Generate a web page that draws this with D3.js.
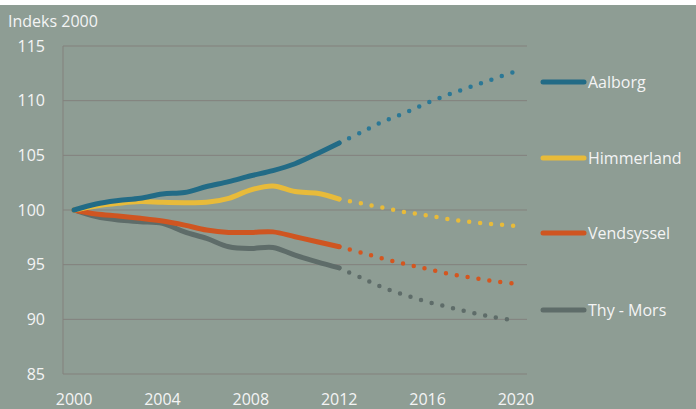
<!DOCTYPE html>
<html>
<head>
<meta charset="utf-8">
<script src="https://cdn.jsdelivr.net/npm/d3@7.9.0/dist/d3.min.js"></script>
<style>
  html, body { margin: 0; padding: 0; background: #fff; }
  svg { display: block; }
  text { font-family: "Open Sans", Lato, sans-serif; }
</style>
</head>
<body>
<div id="chart"></div>
<script>
// years on the category axis
const years = d3.range(2000, 2021);
const tickYears = [2000, 2004, 2008, 2012, 2016, 2020];
const yTicks = [85, 90, 95, 100, 105, 110, 115];

// observed 2000-2012
const histYears = d3.range(2000, 2013);
const aalborg = [100, 100.55, 100.86, 101.07, 101.47, 101.6, 102.15, 102.6, 103.13, 103.6, 104.23, 105.15, 106.13];
const himmerland = [100, 100.37, 100.61, 100.77, 100.7, 100.67, 100.7, 101.07, 101.84, 102.2, 101.69, 101.53, 101.0];
const vendsyssel = [100, 99.63, 99.45, 99.24, 98.99, 98.62, 98.17, 97.95, 97.95, 98.0, 97.55, 97.1, 96.64];
const thyMors = [100, 99.39, 99.08, 98.93, 98.78, 98.0, 97.4, 96.64, 96.48, 96.57, 95.87, 95.26, 94.7];

// projection 2012-2020
const projYears = d3.range(2012, 2021);
const aalborgProj = [106.13, 107.1, 108.1, 108.9, 109.8, 110.6, 111.3, 112.0, 112.7];
const himmerlandProj = [101.0, 100.6, 100.2, 99.8, 99.5, 99.15, 98.9, 98.7, 98.55];
const vendsysselProj = [96.64, 96.1, 95.55, 95.05, 94.6, 94.15, 93.8, 93.5, 93.25];
const thyMorsProj = [94.7, 93.8, 92.9, 92.2, 91.6, 91.1, 90.6, 90.2, 89.9];

const names = ['Aalborg', 'Himmerland', 'Vendsyssel', 'Thy - Mors'];
const colors = ['#226b86', '#e8bb3a', '#cf5521', '#5e6c69'];
const dotColors = ['#2b7896', '#e8bb3a', '#d4561f', '#5e6c69'];

const series = names.map((name, i) => ({
  name,
  color: colors[i],
  dot: dotColors[i],
  hist: histYears.map((y, j) => ({ year: y, value: [aalborg, himmerland, vendsyssel, thyMors][i][j] })),
  proj: projYears.map((y, j) => ({ year: y, value: [aalborgProj, himmerlandProj, vendsysselProj, thyMorsProj][i][j] })),
}));

const width = 696;
const height = 409;
const plot = { left: 63, right: 527, top: 46, bottom: 374 };

const svg = d3.select('#chart')
  .append('svg')
  .attr('width', width)
  .attr('height', height);

// white strip at the top, then the grey chart panel
svg.append('rect').attr('width', width).attr('height', height).attr('fill', '#ffffff');
svg.append('rect')
  .attr('y', 5)
  .attr('width', width)
  .attr('height', height - 5)
  .attr('fill', '#8e9d94');

const x = d3.scalePoint()
  .domain(years)
  .range([plot.left, plot.right])
  .padding(0.5);

const y = d3.scaleLinear()
  .domain([85, 115])
  .range([plot.bottom, plot.top]);

// gridlines
svg.append('g')
  .selectAll('line')
  .data(yTicks)
  .join('line')
  .attr('x1', plot.left)
  .attr('x2', plot.right)
  .attr('y1', d => y(d))
  .attr('y2', d => y(d))
  .attr('stroke', '#83817d')
  .attr('stroke-width', 1);

svg.append('line')
  .attr('x1', plot.left).attr('x2', plot.left)
  .attr('y1', plot.top).attr('y2', plot.bottom)
  .attr('stroke', '#83817d');

// y tick labels
svg.append('g')
  .selectAll('text')
  .data(yTicks)
  .join('text')
  .attr('x', 45)
  .attr('y', d => y(d))
  .attr('dy', '0.35em')
  .attr('text-anchor', 'end')
  .attr('font-size', 16)
  .attr('fill', '#f4f4f4')
  .text(d => d);

// x tick labels
svg.append('g')
  .selectAll('text')
  .data(tickYears)
  .join('text')
  .attr('x', d => x(d))
  .attr('y', 399)
  .attr('dy', '0.35em')
  .attr('text-anchor', 'middle')
  .attr('font-size', 16)
  .attr('fill', '#f4f4f4')
  .text(d => d);

svg.append('text')
  .attr('x', 8)
  .attr('y', 21)
  .attr('dy', '0.35em')
  .attr('font-size', 16)
  .attr('fill', '#f4f4f4')
  .text('Indeks 2000');

const line = d3.line()
  .x(d => x(d.year))
  .y(d => y(d.value))
  .curve(d3.curveCatmullRom.alpha(0.5));

// projections (dotted)
svg.append('g')
  .selectAll('path')
  .data(series)
  .join('path')
  .attr('d', d => line(d.proj))
  .attr('fill', 'none')
  .attr('stroke', d => d.dot)
  .attr('stroke-width', 4.5)
  .attr('stroke-linecap', 'round')
  .attr('stroke-dasharray', '0 11')
  .attr('stroke-dashoffset', -11);

// observed (solid); draw bottom series first
svg.append('g')
  .selectAll('path')
  .data(series.slice().reverse())
  .join('path')
  .attr('d', d => line(d.hist))
  .attr('fill', 'none')
  .attr('stroke', d => d.color)
  .attr('stroke-width', 5)
  .attr('stroke-linecap', 'round')
  .attr('stroke-linejoin', 'round');

// legend
const legendY = [82, 158, 233, 310];
const legend = svg.append('g')
  .selectAll('g')
  .data(series)
  .join('g')
  .attr('transform', (d, i) => `translate(543, ${legendY[i]})`);

legend.append('line')
  .attr('x1', 0)
  .attr('x2', 41)
  .attr('stroke', d => d.color)
  .attr('stroke-width', 5)
  .attr('stroke-linecap', 'round');

legend.append('text')
  .attr('x', 45)
  .attr('dy', '0.35em')
  .attr('font-size', 16)
  .attr('fill', '#f4f4f4')
  .text(d => d.name);
</script>
</body>
</html>
